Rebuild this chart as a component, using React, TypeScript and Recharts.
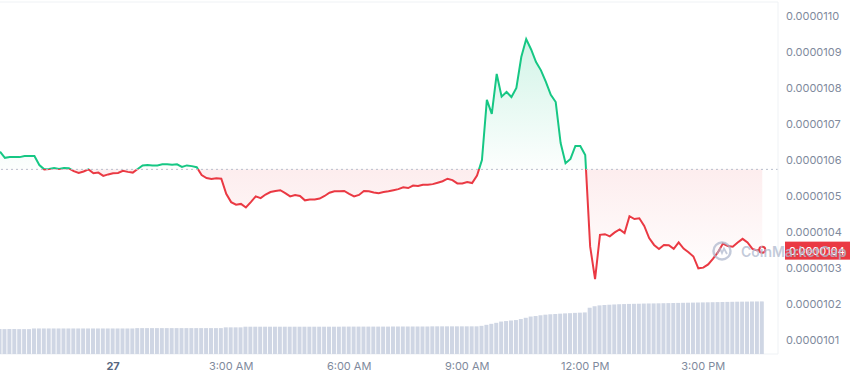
import React from 'react';
import {
  ComposedChart,
  Area,
  Bar,
  XAxis,
  YAxis,
  CartesianGrid,
  ReferenceLine,
  ReferenceDot,
} from 'recharts';

// Time grid: hours relative to midnight of the 27th, one sample every 7.5 minutes
const START_HOUR = -2.875;
const STEP_HOURS = 0.125;

// Price in units of 1e-7 USD
const prices = [
  106.23, 106.06, 106.08, 106.08, 106.08, 106.11, 106.11, 106.11, 105.86, 105.74,
  105.75, 105.78, 105.75, 105.78, 105.77, 105.69, 105.64, 105.68, 105.74, 105.63,
  105.65, 105.56, 105.6, 105.63, 105.64, 105.7, 105.67, 105.65, 105.75, 105.85,
  105.86, 105.85, 105.85, 105.88, 105.88, 105.87, 105.88, 105.81, 105.85, 105.83,
  105.8, 105.58, 105.5, 105.47, 105.49, 105.48, 105.06, 104.83, 104.76, 104.78,
  104.68, 104.83, 104.99, 104.94, 105.04, 105.11, 105.14, 105.16, 105.08, 104.99,
  105.03, 105.0, 104.88, 104.9, 104.9, 104.93, 105.0, 105.09, 105.13, 105.13,
  105.14, 105.06, 104.99, 105.03, 105.14, 105.13, 105.1, 105.08, 105.11, 105.13,
  105.16, 105.19, 105.24, 105.22, 105.29, 105.28, 105.31, 105.31, 105.33, 105.37,
  105.41, 105.48, 105.44, 105.35, 105.35, 105.39, 105.36, 105.57, 106.0, 107.67,
  107.28, 108.39, 107.76, 107.89, 107.75, 108.0, 108.86, 109.36, 109.07, 108.72,
  108.49, 108.17, 107.81, 107.61, 106.47, 105.91, 106.03, 106.39, 106.39, 106.14,
  103.6, 102.69, 103.92, 103.94, 103.88, 103.99, 104.07, 103.97, 104.44, 104.36,
  104.38, 104.17, 103.83, 103.64, 103.53, 103.64, 103.63, 103.53, 103.71, 103.54,
  103.44, 103.32, 102.99, 103.01, 103.1, 103.26, 103.44, 103.68, 103.61, 103.59,
  103.71, 103.81, 103.71, 103.53, 103.49, 103.51,
];

// Volume (millions)
const volumes = [
  4.95, 4.95, 4.95, 4.95, 4.95, 4.95, 4.95, 5.08, 5.08, 5.08,
  5.08, 5.08, 5.08, 5.08, 5.08, 5.08, 5.08, 5.08, 5.08, 5.08,
  5.08, 5.08, 5.08, 5.08, 5.08, 5.08, 5.08, 5.08, 5.15, 5.15,
  5.15, 5.15, 5.15, 5.15, 5.15, 5.15, 5.15, 5.15, 5.15, 5.15,
  5.15, 5.15, 5.15, 5.15, 5.15, 5.15, 5.3, 5.3, 5.3, 5.3,
  5.43, 5.43, 5.43, 5.43, 5.43, 5.43, 5.43, 5.43, 5.43, 5.43,
  5.43, 5.43, 5.43, 5.43, 5.43, 5.43, 5.43, 5.43, 5.43, 5.43,
  5.45, 5.45, 5.45, 5.45, 5.45, 5.45, 5.45, 5.45, 5.45, 5.45,
  5.47, 5.47, 5.47, 5.47, 5.47, 5.47, 5.47, 5.47, 5.5, 5.5,
  5.5, 5.5, 5.5, 5.5, 5.5, 5.5, 5.5, 5.5, 5.6, 5.8,
  6.0, 6.2, 6.45, 6.55, 6.65, 6.75, 6.95, 7.2, 7.45, 7.55,
  7.7, 7.82, 7.9, 7.95, 8.02, 8.08, 8.12, 8.18, 8.22, 8.27,
  9.2, 9.5, 9.67, 9.75, 9.8, 9.85, 9.9, 9.93, 9.96, 9.98,
  10.0, 10.03, 10.05, 10.06, 10.08, 10.1, 10.12, 10.14, 10.16, 10.18,
  10.2, 10.22, 10.24, 10.26, 10.28, 10.3, 10.32, 10.34, 10.36, 10.38,
  10.4, 10.41, 10.42, 10.44, 10.45, 10.46,
];

const baselinePrice = 105.74;
const xTickHours = [0, 3, 6, 9, 12, 15];
const xTickLabels = ['27', '3:00 AM', '6:00 AM', '9:00 AM', '12:00 PM', '3:00 PM'];
const yTicks = [101, 102, 103, 104, 105, 106, 107, 108, 109, 110];

const GREEN = '#16c784';
const RED = '#ea3943';
const AXIS_TEXT = '#808a9d';
const FONT = 'Inter, "Noto Sans", sans-serif';

const data = prices.map((p, i) => ({
  t: START_HOUR + i * STEP_HOURS,
  price: p,
  volume: volumes[i],
}));

const maxP = Math.max(...prices);
const minP = Math.min(...prices);
const baseOffset = (maxP - baselinePrice) / (maxP - minP);
const lastPoint = data[data.length - 1];

const formatPrice = (v: number) => (v / 1e7).toFixed(7);

const XTick = (props: any) => {
  const { x, y, payload } = props;
  const idx = xTickHours.indexOf(payload.value);
  const first = idx === 0;
  return (
    <text
      x={x}
      y={y}
      dy="0.71em"
      textAnchor="middle"
      fontSize={11}
      fontFamily={FONT}
      fontWeight={first ? 700 : 400}
      fill={first ? '#58667e' : AXIS_TEXT}
    >
      {xTickLabels[idx]}
    </text>
  );
};

const PriceTag = (props: any) => {
  const { viewBox } = props;
  if (!viewBox) return null;
  const { x, y, width } = viewBox;
  return (
    <g>
      <rect x={x + width + 7} y={y - 8} width={66} height={18} fill={RED} />
      <text
        x={x + width + 11}
        y={y + 1}
        dy="0.355em"
        fill="#ffffff"
        fontSize={11}
        fontFamily={FONT}
      >
        {formatPrice(lastPoint.price)}
      </text>
    </g>
  );
};

export default function App() {
  return (
    <div
      style={{
        position: 'absolute',
        left: 0,
        top: 0,
        width: 850,
        height: 378,
        overflow: 'hidden',
        background: '#ffffff',
      }}
    >
      <ComposedChart
        width={850}
        height={378}
        data={data}
        margin={{ top: 2, right: 0, bottom: 0, left: 0 }}
      >
        <defs>
          <linearGradient id="strokeGrad" x1="0" y1="0" x2="0" y2="1">
            <stop offset={baseOffset} stopColor={GREEN} />
            <stop offset={baseOffset} stopColor={RED} />
          </linearGradient>
          <linearGradient id="fillGrad" x1="0" y1="0" x2="0" y2="1">
            <stop offset={0} stopColor={GREEN} stopOpacity={0.32} />
            <stop offset={baseOffset} stopColor={GREEN} stopOpacity={0.02} />
            <stop offset={baseOffset} stopColor={RED} stopOpacity={0.15} />
            <stop offset={1} stopColor={RED} stopOpacity={0.0} />
          </linearGradient>
        </defs>
        <CartesianGrid horizontal vertical={false} stroke="#eff2f5" />
        <XAxis
          dataKey="t"
          type="number"
          domain={[START_HOUR, 16.9]}
          ticks={xTickHours}
          tick={<XTick />}
          tickLine={false}
          axisLine={false}
          height={24}
          allowDataOverflow
        />
        <YAxis
          yAxisId="price"
          orientation="right"
          type="number"
          domain={[100.611, 110.389]}
          ticks={yTicks}
          tickFormatter={formatPrice}
          tick={{ fontSize: 11, fill: AXIS_TEXT, fontFamily: FONT }}
          tickLine={false}
          axisLine={{ stroke: '#eff2f5' }}
          width={72}
          allowDataOverflow
        />
        <YAxis yAxisId="vol" hide domain={[0, 70]} />
        <Bar
          yAxisId="vol"
          dataKey="volume"
          fill="#cfd6e4"
          barSize={4}
          isAnimationActive={false}
        />
        <ReferenceLine
          yAxisId="price"
          y={baselinePrice}
          stroke="#b8bfcc"
          strokeDasharray="2 3"
        />
        <Area
          yAxisId="price"
          type="linear"
          dataKey="price"
          baseValue={baselinePrice}
          stroke="url(#strokeGrad)"
          strokeWidth={2}
          fill="url(#fillGrad)"
          dot={false}
          activeDot={false}
          isAnimationActive={false}
        />
        <ReferenceLine
          yAxisId="price"
          y={lastPoint.price}
          stroke="none"
          label={<PriceTag />}
        />
        <ReferenceDot
          yAxisId="price"
          x={lastPoint.t}
          y={lastPoint.price}
          r={3}
          fill="#ffffff"
          stroke={RED}
          strokeWidth={2}
        />
      </ComposedChart>
      <div
        style={{
          position: 'absolute',
          left: 711,
          top: 240,
          display: 'flex',
          alignItems: 'center',
          pointerEvents: 'none',
          whiteSpace: 'nowrap',
        }}
      >
        <svg width={22} height={22}>
          <circle cx={11} cy={11} r={8.5} fill="none" stroke="rgba(170,180,202,0.7)" strokeWidth={2.4} />
          <path
            d="M6 14 L9 8.5 L11 13 L13 8.5 L16 14"
            fill="none"
            stroke="rgba(170,180,202,0.7)"
            strokeWidth={1.8}
          />
        </svg>
        <span
          style={{
            marginLeft: 8,
            fontFamily: FONT,
            fontWeight: 600,
            fontSize: 14,
            color: 'rgba(178,188,208,0.78)',
          }}
        >
          CoinMarketCap
        </span>
      </div>
    </div>
  );
}
